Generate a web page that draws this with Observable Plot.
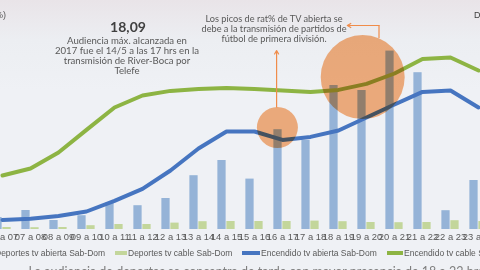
<!DOCTYPE html>
<html><head><meta charset="utf-8">
<script src="https://cdn.jsdelivr.net/npm/d3@7"></script>
<script src="https://cdn.jsdelivr.net/npm/@observablehq/plot@0.6"></script>
<style>
html,body{margin:0;padding:0;}
body{width:480px;height:270px;overflow:hidden;}
#wrap{position:relative;width:480px;height:270px;overflow:hidden;
  background:linear-gradient(180deg,#e9e4e8 0px,#eceef2 40px,#eff1f5 90px,#eff1f5 270px);
  font-family:"Liberation Sans",Arial,sans-serif;color:#595959;}
#chart{position:absolute;left:0;top:0;}
.ann{position:absolute;text-align:center;white-space:nowrap;font-family:Lato,"Open Sans",sans-serif;color:#595959;}
.leg{position:absolute;font-size:8.5px;line-height:10px;white-space:nowrap;color:#595959;}
.sw{position:absolute;}
</style></head><body>
<div id="wrap">
  <div id="chart"></div>
  <div class="ann" style="right:474px;top:9px;font-size:9px;line-height:12px;font-family:'Liberation Sans',Arial,sans-serif;text-align:right;">Rating (%)</div>
  <div class="ann" style="left:474px;top:9px;font-size:9px;line-height:12px;font-family:'Liberation Sans',Arial,sans-serif;text-align:left;color:#404040;">Datos</div>
  <div class="ann" style="left:78px;width:100px;top:19px;font-size:14px;line-height:16px;font-weight:bold;color:#404040;">18,09</div>
  <div class="ann" style="left:47px;width:160px;top:35.5px;font-size:9.6px;line-height:10.3px;">Audiencia máx. alcanzada en<br>2017 fue el 14/5 a las 17 hrs en la<br>transmisión de River-Boca por<br>Telefe</div>
  <div class="ann" style="left:184px;width:180px;top:14.3px;font-size:9.2px;line-height:10px;">Los picos de rat% de TV abierta se<br>debe a la transmisión de partidos de<br>fútbol de primera división.</div>
  <div class="sw" style="left:-19px;top:251px;width:12px;height:4px;background:#95b3d7;"></div>
  <div class="leg" style="left:-5px;top:248px;">Deportes tv abierta Sab-Dom</div>
  <div class="sw" style="left:115px;top:251px;width:12px;height:4px;background:#c3d69b;"></div>
  <div class="leg" style="left:128px;top:248px;">Deportes tv cable Sab-Dom</div>
  <div class="sw" style="left:242px;top:251px;width:18px;height:3.5px;background:#4675c0;"></div>
  <div class="leg" style="left:261px;top:248px;">Encendido tv abierta Sab-Dom</div>
  <div class="sw" style="left:387px;top:251px;width:16px;height:3.5px;background:#8db443;"></div>
  <div class="leg" style="left:404px;top:248px;">Encendido tv cable Sab-Dom</div>
  <div class="ann" style="left:0;width:512px;top:266px;font-size:12.5px;line-height:12px;color:#7f7f7f;">La audiencia de deportes se concentra de tarde con mayor presencia de 18 a 22 hrs</div>
</div>
<script>
const categories = ["06 a 07","07 a 08","08 a 09","09 a 10","10 a 11","11 a 12","12 a 13","13 a 14","14 a 15","15 a 16","16 a 17","17 a 18","18 a 19","19 a 20","20 a 21","21 a 22","22 a 23","23 a 24"];
const deportesAbierta = [0.6,0.95,0.45,0.69,1.32,1.19,1.55,2.69,3.45,2.52,4.99,4.45,7.2,6.95,8.92,7.84,0.94,2.45];
const deportesCable = [0.1,0.09,0.1,0.19,0.25,0.25,0.32,0.39,0.4,0.4,0.4,0.42,0.39,0.35,0.34,0.35,0.44,0.4];
const encendidoAbierta = [0.48,0.54,0.68,0.9,1.43,2.03,2.95,4.05,4.9,4.9,4.48,4.63,4.95,5.6,6.25,6.88,6.95,6.1];
const encendidoCable = [2.7,3.05,3.85,4.98,6.1,6.7,6.93,7.03,7.08,7.03,6.95,6.88,6.98,7.28,7.8,8.53,8.6,7.95];

const rows = categories.map((c, i) => ({cat: c, abierta: deportesAbierta[i], cable: deportesCable[i], encAb: encendidoAbierta[i], encCab: encendidoCable[i]}));

// annotation anchors (category + value)
const highlightSmall = [{cat: "16 a 17", y: 5.1}];
const highlightBig = [{cat: "19 a 20", y: 7.62}];

const orange = "#f08c4a";
const circleFill = "#f9ab72";
const plot = Plot.plot({
  width: 480, height: 245,
  marginTop: 9, marginBottom: 16, marginLeft: 0, marginRight: 0,
  x: {type: "band", domain: categories, range: [-19.07, 498.1], padding: 0},
  y: {domain: [0, 11], axis: null},
  style: {background: "transparent", fontFamily: "'Liberation Sans', Arial, sans-serif", fontSize: "9.4px", color: "#595959"},
  marks: [
    Plot.barY(rows, {x: "cat", y: "abierta", fill: "#95b3d7", insetLeft: 5.37, insetRight: 14.37}),
    Plot.barY(rows, {x: "cat", y: "cable", fill: "#c3d69b", insetLeft: 14.37, insetRight: 5.37}),
    Plot.line(rows, {x: "cat", y: "encCab", stroke: "#8db443", strokeWidth: 4}),
    Plot.line(rows, {x: "cat", y: "encAb", stroke: "#4675c0", strokeWidth: 4}),
    Plot.dot(highlightSmall, {x: "cat", y: "y", r: 20.5, dx: -5.1, fill: circleFill, fillOpacity: 0.9, stroke: null, mixBlendMode: "multiply"}),
    Plot.dot(highlightBig, {x: "cat", y: "y", r: 42, dx: -3.8, fill: circleFill, fillOpacity: 0.9, stroke: null, mixBlendMode: "multiply"}),
    Plot.arrow(highlightSmall, {x: "cat", y1: () => 6.12, y2: () => 8.95, dx: -5.9, stroke: orange, strokeWidth: 1.2, headLength: 5}),
    Plot.ruleX(highlightBig, {x: () => "20 a 21", y1: () => 9.55, y2: () => 10.2, dx: -15.5, stroke: orange, strokeWidth: 1.2}),
    Plot.arrow(highlightBig, {x1: () => "20 a 21", x2: () => "19 a 20", y: () => 10.2, dx: -15.5, insetEnd: -3.7, stroke: orange, strokeWidth: 1.2, headLength: 5}),
    Plot.axisX({tickSize: 0, tickPadding: 3.5, fontSize: 9.4, fill: "#595959", label: null})
  ]
});
document.getElementById("chart").appendChild(plot);
</script>
</body></html>
